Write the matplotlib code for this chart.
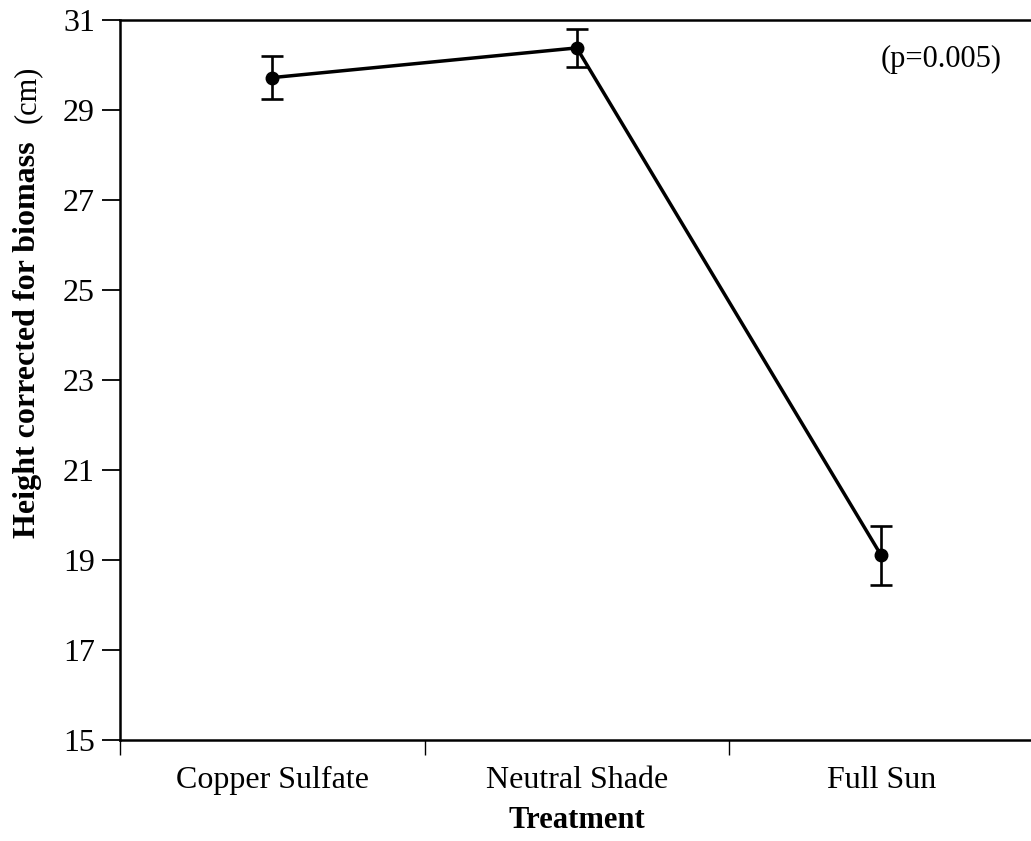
import matplotlib
matplotlib.use("Agg")
import matplotlib.pyplot as plt

plt.rcParams['font.family'] = ['Liberation Serif', 'DejaVu Serif']

categories = ["Copper Sulfate", "Neutral Shade", "Full Sun"]
heights = [29.72, 30.38, 19.10]
errors = [0.47, 0.43, 0.66]
y_ticks = [15, 17, 19, 21, 23, 25, 27, 29, 31]

W, H = 1031, 841
fig = plt.figure(figsize=(W / 100, H / 100), dpi=100)
ax = fig.add_axes([120 / W, 1 - 740 / H, 913.5 / W, 720 / H])

xpos = [i + 0.5 for i in range(len(categories))]
ax.errorbar(xpos, heights, yerr=errors, color='black', lw=2.5,
            marker='o', markersize=9, ecolor='black', elinewidth=1.9,
            capsize=8, capthick=1.9, zorder=3)

ax.set_xlim(0, 3)
ax.set_ylim(15, 31)
ax.set_yticks(y_ticks)
ax.set_yticklabels([str(v) for v in y_ticks])
ax.set_xticks([0, 1, 2])
ax.set_xticklabels([])
ax.set_xticks(xpos, minor=True)
ax.set_xticklabels(categories, minor=True)

ax.tick_params(axis='y', direction='out', length=13, width=1.3, pad=5,
               labelsize=23)
ax.tick_params(axis='x', which='major', direction='out', length=11,
               width=1.0)
ax.tick_params(axis='x', which='minor', length=0, pad=19, labelsize=23)

for s in ['left', 'bottom', 'top']:
    ax.spines[s].set_linewidth(1.8)
ax.spines['right'].set_visible(False)

fig.text(35 / W, 1 - 538 / H, "Height corrected for biomass",
         rotation=90, rotation_mode='anchor', ha='left', va='baseline',
         fontsize=23, fontweight='bold')
fig.text(35 / W, 1 - 123 / H, "(cm)",
         rotation=90, rotation_mode='anchor', ha='left', va='baseline',
         fontsize=22)
fig.text(577 / W, 1 - 828 / H, "Treatment", ha='center', va='baseline',
         fontsize=22, fontweight='bold')
fig.text(881 / W, 1 - 67 / H, "(p=0.005)", ha='left', va='baseline',
         fontsize=22)

fig.savefig("out.png", dpi=100, facecolor='white')
